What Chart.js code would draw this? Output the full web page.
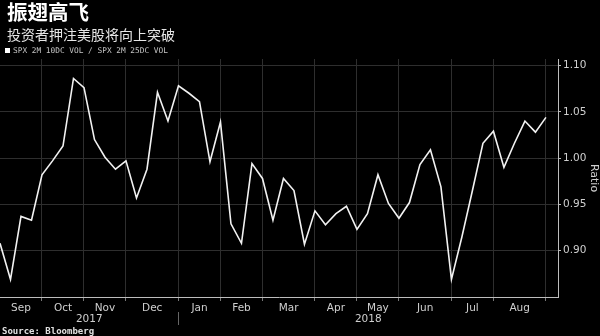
<!DOCTYPE html>
<html>
<head>
<meta charset="utf-8">
<script src="https://cdn.jsdelivr.net/npm/chart.js@4.4.0/dist/chart.umd.min.js"></script>
<style>
  html, body { margin: 0; padding: 0; background: #000; }
  #wrap { position: relative; width: 600px; height: 336px; overflow: hidden; background: #000; }
  #chart { position: absolute; left: 0; top: 0; }
  .title { position: absolute; left: 7px; top: 0px; color: #fff; font: bold 20.5px/22px "Noto Sans CJK SC"; }
  .subtitle { position: absolute; left: 7px; top: 25px; color: #e6e6e6; font: 14px/18px "Noto Sans CJK SC"; }
  .legend { position: absolute; left: 5px; top: 46px; color: #c4c4c4; font: 7.8px/9px "DejaVu Sans Mono"; }
  .legend span { display: inline-block; width: 5px; height: 5px; background: #fff; margin-right: 3px; vertical-align: 0px; }
  .source { position: absolute; left: 2px; top: 326px; color: #e0e0e0; font: bold 9px/11px "DejaVu Sans Mono"; }
</style>
</head>
<body>
<div id="wrap">
  <canvas id="chart" width="600" height="336"></canvas>
  <div class="title">振翅高飞</div>
  <div class="subtitle">投资者押注美股将向上突破</div>
  <div class="legend"><span></span>SPX 2M 10DC VOL / SPX 2M 25DC VOL</div>
  <div class="source">Source: Bloomberg</div>
</div>
<script>
// weekly ratio, Sep 2017 - early Sep 2018
var ratioValues = [
  0.908, 0.869, 0.937, 0.933, 0.982, 0.997, 1.013, 1.086, 1.076, 1.020,
  1.001, 0.988, 0.997, 0.957, 0.988, 1.071, 1.040, 1.078, 1.070, 1.061,
  0.996, 1.039, 0.929, 0.908, 0.994, 0.978, 0.933, 0.978, 0.965, 0.907,
  0.943, 0.928, 0.940, 0.948, 0.923, 0.940, 0.982, 0.951, 0.935, 0.952,
  0.993, 1.009, 0.969, 0.869, 0.915, 0.965, 1.016, 1.029, 0.990, 1.016,
  1.040, 1.028, 1.044
];
var monthLabels = ['Sep', 'Oct', 'Nov', 'Dec', 'Jan', 'Feb', 'Mar', 'Apr', 'May', 'Jun', 'Jul', 'Aug'];
// week index where each month starts (last entry = Sep 2018)
var monthStarts = [0, 4, 8, 12, 17, 21, 25, 30, 34, 38, 43, 47, 52];
var yearLabels = ['2017', '2018'];
var yearStart = 17;
var yTicks = [0.90, 0.95, 1.00, 1.05, 1.10];

var xMax = 53.15;

var points = [];
for (var i = 0; i < ratioValues.length; i++) {
    points.push({ x: i, y: ratioValues[i] });
}

var gridColor = '#2e2e2e';
var axisColor = '#bdbdbd';
var textColor = '#cfcfcf';

// short divider between the two year labels
var yearDivider = {
    id: 'yearDivider',
    afterDraw: function(chart) {
        var x = Math.round(chart.scales.x.getPixelForValue(yearStart)) + 0.5;
        var y0 = chart.chartArea.bottom;
        var c = chart.ctx;
        c.save();
        c.strokeStyle = '#666';
        c.lineWidth = 1;
        c.beginPath();
        c.moveTo(x, y0 + 15);
        c.lineTo(x, y0 + 28);
        c.stroke();
        c.restore();
    }
};

var ctx = document.getElementById('chart').getContext('2d');
var myChart = new Chart(ctx, {
    type: 'line',
    data: {
        datasets: [{
            label: 'SPX 2M 10DC VOL / SPX 2M 25DC VOL',
            data: points,
            borderColor: '#f2f2f2',
            borderWidth: 1.6,
            pointRadius: 0,
            tension: 0
        }]
    },
    options: {
        responsive: false,
        animation: false,
        layout: { padding: { top: 59, left: 0, right: 0, bottom: 0 } },
        plugins: {
            legend: { display: false },
            tooltip: { enabled: false }
        },
        scales: {
            x: {
                type: 'linear',
                min: 0,
                max: xMax,
                afterBuildTicks: function(axis) {
                    var t = [];
                    for (var m = 1; m < monthStarts.length; m++) {
                        t.push({ value: monthStarts[m], lbl: '', kind: 'b' });
                    }
                    for (var m = 0; m < monthLabels.length; m++) {
                        t.push({ value: (monthStarts[m] + monthStarts[m + 1]) / 2, lbl: monthLabels[m], kind: 'm' });
                    }
                    t.push({ value: yearStart / 2, lbl: ['', yearLabels[0]], kind: 'y' });
                    t.push({ value: (yearStart + xMax) / 2, lbl: ['', yearLabels[1]], kind: 'y' });
                    t.sort(function(a, b) { return a.value - b.value; });
                    axis.ticks = t;
                },
                afterFit: function(axis) { axis.height = 39; },
                border: { display: true, color: axisColor, width: 1 },
                grid: {
                    color: function(c) { return c.tick && c.tick.kind === 'b' ? gridColor : 'transparent'; },
                    tickColor: function(c) { return c.tick && c.tick.kind === 'b' ? '#777' : 'transparent'; },
                    tickLength: 4
                },
                ticks: {
                    autoSkip: false,
                    maxRotation: 0,
                    padding: 1,
                    color: textColor,
                    font: { family: 'DejaVu Sans', size: 10.5, lineHeight: 1.1 },
                    callback: function(value, index, ticks) { return ticks[index].lbl; }
                }
            },
            y: {
                position: 'right',
                min: 0.85,
                max: 1.107,
                afterBuildTicks: function(axis) {
                    axis.ticks = yTicks.map(function(v) { return { value: v }; });
                },
                afterFit: function(axis) { axis.width = 42; },
                border: { display: true, color: axisColor, width: 1 },
                grid: { color: gridColor, tickColor: axisColor, tickLength: 3 },
                ticks: {
                    padding: 2,
                    color: textColor,
                    font: { family: 'DejaVu Sans', size: 10.5 },
                    callback: function(value) { return value.toFixed(2); }
                },
                title: {
                    display: true,
                    text: 'Ratio',
                    color: textColor,
                    padding: 0,
                    font: { family: 'DejaVu Sans', size: 11 }
                }
            }
        }
    },
    plugins: [yearDivider]
});
</script>
</body>
</html>
